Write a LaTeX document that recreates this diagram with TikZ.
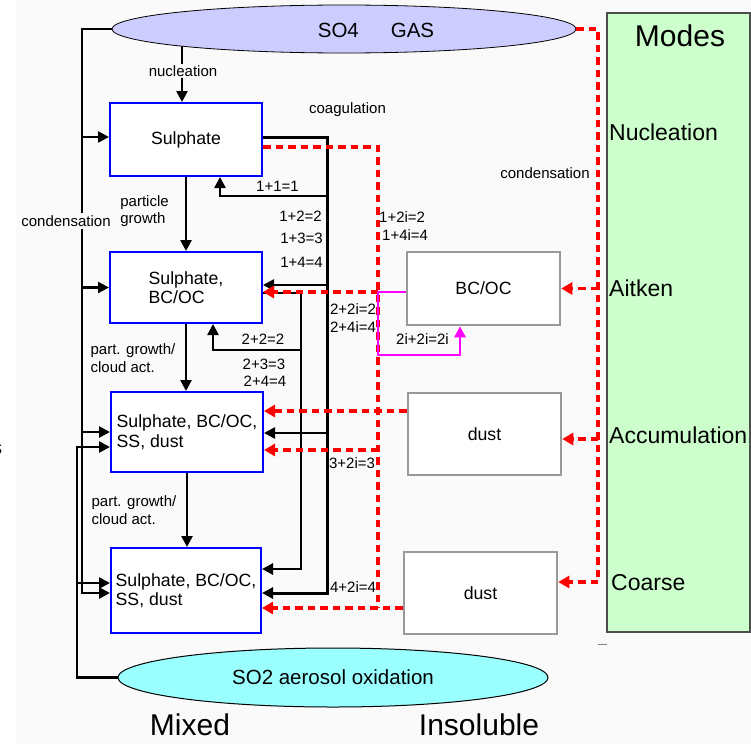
\documentclass[tikz,border=0pt]{standalone}
\usepackage{fontspec}
\setmainfont{Liberation Sans}
\usetikzlibrary{arrows.meta,shapes.geometric,calc,backgrounds}
\definecolor{bgc}{RGB}{250,250,250}
\definecolor{lav}{RGB}{204,204,255}
\definecolor{cyanl}{RGB}{153,255,255}
\definecolor{modeg}{RGB}{204,255,204}
\definecolor{boxblue}{RGB}{0,0,255}
\definecolor{boxgray}{RGB}{153,153,153}
\definecolor{mag}{RGB}{255,0,255}
\begin{document}
\begin{tikzpicture}[x=1pt,y=-1pt,
  small/.style={font=\fontsize{15}{17.5}\selectfont, inner sep=1pt},
  mixbox/.style={draw=boxblue, line width=2pt, fill=white, font=\fontsize{17.7}{19.5}\selectfont, align=left, inner sep=0pt},
  insbox/.style={draw=boxgray, line width=2.5pt, fill=white, font=\fontsize{17.7}{19.5}\selectfont, inner sep=0pt},
  blk/.style={draw=black, line width=2.5pt},
  blkarr/.style={blk, -{Triangle[length=11pt,width=11pt]}},
  reddash/.style={draw=red, line width=3.2pt, dash pattern=on 7.5pt off 5pt},
  redarr/.style={reddash, -{Triangle[length=11pt,width=12pt]}},
  magarr/.style={draw=mag, line width=2.5pt, -{Triangle[length=11pt,width=11pt]}},
  big/.style={font=\fontsize{30}{32}\selectfont},
  modetxt/.style={font=\fontsize{23}{25}\selectfont, anchor=west, inner sep=0pt},
]
\useasboundingbox (0,0) rectangle (751,744);
\begin{pgfonlayer}{background}
\fill[bgc] (16,0) rectangle (751,744);
\end{pgfonlayer}

% gas and oxidation ellipses
\node[ellipse, draw=black, line width=0.8pt, fill=lav, minimum width=464pt, minimum height=48pt, inner sep=0pt] (so4) at (344,29) {};
\node[font=\fontsize{20.5}{22}\selectfont] (so4t) at (376,30) {SO4\hspace{32pt}GAS};
\node[ellipse, draw=black, line width=1pt, fill=cyanl, minimum width=430pt, minimum height=59pt, inner sep=0pt, font=\fontsize{20.5}{22}\selectfont] (so2) at (333,677.5) {SO2 aerosol oxidation};

% modes panel
\node[draw=black!70, line width=1.2pt, fill=modeg, minimum width=143pt, minimum height=619pt, inner sep=0pt] (modes) at (678.5,322.5) {};
\node[big] (mt) at (680,36) {Modes};
\node[modetxt] (mn) at (609,132) {Nucleation};
\node[modetxt] (ma) at (609,288) {Aitken};
\node[modetxt] (mc) at (609,435) {Accumulation};
\node[modetxt] (mo) at (611,583) {Coarse};

% mixed boxes
\node[mixbox, minimum width=152pt, minimum height=73pt] (b1) at (186,139.5) {Sulphate};
\node[mixbox, minimum width=152pt, minimum height=71pt] (b2) at (186,287.5) {Sulphate,\\BC/OC};
\node[mixbox, minimum width=152pt, minimum height=80pt] (b3) at (187,432) {Sulphate, BC/OC,\\SS, dust};
\node[mixbox, minimum width=150pt, minimum height=85pt] (b4) at (186,590.5) {Sulphate, BC/OC,\\SS, dust};

% insoluble boxes
\node[insbox, minimum width=153pt, minimum height=73pt] (i2) at (483.5,288.5) {BC/OC};
\node[insbox, minimum width=153pt, minimum height=82pt] (i3) at (484.5,434) {dust};
\node[insbox, minimum width=153pt, minimum height=82pt] (i4) at (480.5,593) {dust};

% helper coordinates
\coordinate (cA) at (82,0);
\coordinate (cB) at (77,0);
\coordinate (cK) at (327,0);
\coordinate (cK2) at (301,0);
\coordinate (cR) at (378,0);
\coordinate (cC) at (598,0);
\coordinate (b1w) at ($(b1.west)+(0,-2.5)$);
\coordinate (b3w2) at ($(b3.west)+(0,15)$);
\coordinate (b4w1) at ($(b4.west)+(0,-7.5)$);
\coordinate (b4w2) at ($(b4.west)+(0,2.5)$);
\coordinate (b1n) at ($(b1.north)+(-4,0)$);
\coordinate (b1e) at ($(b1.east)+(0,-2.5)$);
\coordinate (b4e2) at ($(b4.east)+(0,2.5)$);
\coordinate (k1) at (327,196);
\coordinate (b1s) at ($(b1.south)+(34,0)$);
\coordinate (b2e1) at ($(b2.east)+(0,-2.5)$);
\coordinate (b3e) at ($(b3.east)+(0,1)$);
\coordinate (b2e2) at ($(b2.east)+(0,5.5)$);
\coordinate (b4e1) at ($(b4.east)+(0,-21.5)$);
\coordinate (k2) at (301,350);
\coordinate (b2s) at ($(b2.south)+(27,0)$);
\coordinate (b1r) at ($(b1.east)+(0,7.5)$);
\coordinate (b4r) at ($(b4.east)+(0,17.5)$);
\coordinate (b2r) at ($(b2.east)+(0,4.5)$);
\coordinate (b3r2) at ($(b3.east)+(0,18)$);
\coordinate (b3r1) at ($(b3.east)+(0,-21)$);
\coordinate (i4e) at ($(i4.east)+(0,-11)$);
\coordinate (i3e) at ($(i3.east)+(0,5)$);
\coordinate (i2w) at ($(i2.west)+(0,3.5)$);
\coordinate (m1) at (378,355);
\coordinate (i2s) at ($(i2.south)+(-23.5,0)$);

% nucleation
\begin{pgfonlayer}{background}
\draw[blkarr] (b1n |- so4.center) -- (b1n);
\end{pgfonlayer}
\node[small, fill=bgc] (lnuc) at (183,71) {nucleation};

% condensation from SO4 (left)
\draw[blkarr] (so4.west) -- (so4.west -| cA) |- (b4w2);
\draw[blkarr] (cA |- b1w) -- (b1w);
\draw[blkarr] (cA |- b2.west) -- (b2.west);
\draw[blkarr] (cA |- b3.west) -- (b3.west);
% SO2 oxidation
\draw[blkarr] (so2.west) -- (so2.west -| cB) |- (b3w2);
\draw[blkarr] (cB |- b4w1) -- (b4w1);
\node[small, fill=bgc, inner sep=2pt] (lcond) at (66,221) {condensation};

% growth arrows
\draw[blkarr] (b1.south) -- (b2.north);
\draw[blkarr] (b2.south) -- (b3.north -| b2.south);
\draw[blkarr] (b3.south) -- (b4.north -| b3.south);
\node[small, align=left] (lpg) at (144.5,211) {particle\\growth};
\node[small, align=left] (lpc1) at (133,358) {part. growth/\\cloud act.};
\node[small, align=left] (lpc2) at (134,510) {part. growth/\\cloud act.};

% coagulation (black)
\draw[blkarr, line width=3pt] (b1e) -- (b1e -| cK) |- (b4e2);
\draw[blkarr] (k1) -| (b1s);
\draw[blkarr] (cK |- b2e1) -- (b2e1);
\draw[blkarr] (cK |- b3e) -- (b3e);
\draw[blkarr, line width=2.8pt] (b2e2) -- (b2e2 -| cK2) |- (b4e1);
\draw[blkarr] (k2) -| (b2s);

% coagulation with insoluble (red)
\draw[reddash] (b1r) -- (b1r -| cR) -- (cR |- b4r);
\draw[redarr] (i4.west |- b4r) -- (b4r);
\draw[redarr] (cR |- b2r) -- (b2r);
\draw[redarr] (cR |- b3r2) -- (b3r2);
\draw[redarr] (i3.west |- b3r1) -- (b3r1);

% condensation to insoluble (red, right)
\draw[reddash] (so4.east) -- (so4.east -| cC) -- (cC |- i4e);
\draw[redarr] (cC |- i4e) -- (i4e);
\draw[redarr] (cC |- i2.east) -- (i2.east);
\draw[redarr] (cC |- i3e) -- (i3e);
\node[small] (rcond) at (545,173) {condensation};

% magenta self-coagulation
\draw[magarr] (i2w) -- (i2w -| cR) -- (m1) -| (i2s);

% labels
\node[small] (lcoag) at (347.5,110) {coagulation};
\node[small] (l11) at (277.5,186) {1+1=1};
\node[small, anchor=east] (l12) at (323,216) {1+2=2};
\node[small, anchor=east] (l13) at (324,238) {1+3=3};
\node[small, anchor=east] (l14) at (324,262) {1+4=4};
\node[small] (l22) at (263,339) {2+2=2};
\node[small] (l23) at (264,364) {2+3=3};
\node[small] (l24) at (265,381) {2+4=4};
\node[small] (l2i2) at (353,309) {2+2i=2};
\node[small] (l2i4) at (353,327) {2+4i=4};
\node[small, anchor=west] (l1i2) at (378,217) {1+2i=2};
\node[small, anchor=west] (l1i4) at (381,235) {1+4i=4};
\node[small] (l3i) at (352,463) {3+2i=3};
\node[small] (l4i) at (353,587) {4+2i=4};
\node[small] (lmag) at (422.5,339) {2i+2i=2i};

\node[big, anchor=base, inner sep=0pt] (mx) at (190,735) {Mixed};
\node[big, anchor=base, inner sep=0pt] (ins) at (479,735) {Insoluble};
\node[font=\fontsize{20}{22}\selectfont, inner sep=0pt] (frag) at (-3,449) {s};
\draw[gray, line width=1pt] (598,644) -- (607,644);
\end{tikzpicture}
\end{document}
